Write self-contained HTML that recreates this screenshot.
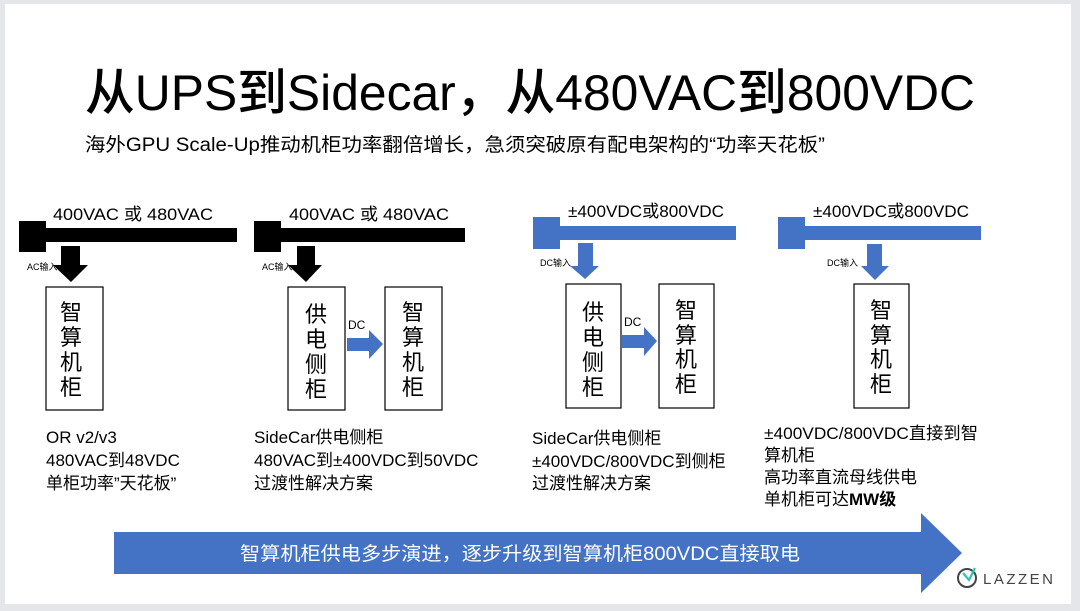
<!DOCTYPE html>
<html><head><meta charset="utf-8"><style>
html,body{margin:0;padding:0;background:#e4e6e9;}
svg{display:block;}
text{font-family:"Liberation Sans","Noto Sans CJK SC",sans-serif;}
</style></head><body>
<svg width="1080" height="611" viewBox="0 0 1080 611" xmlns="http://www.w3.org/2000/svg">
<rect x="0" y="0" width="1080" height="611" fill="#e4e6e9"/>
<rect x="5" y="4" width="1066" height="600" fill="#ffffff"/>
<text x="85" y="110" font-size="50" font-weight="500" fill="#000" textLength="890" lengthAdjust="spacingAndGlyphs">从UPS到Sidecar，从480VAC到800VDC</text>
<text x="85" y="151" font-size="19" fill="#000" textLength="740" lengthAdjust="spacingAndGlyphs">海外GPU Scale-Up推动机柜功率翻倍增长，急须突破原有配电架构的“功率天花板”</text>

<!-- Section 1 -->
<text x="53" y="220" font-size="17" fill="#000" textLength="160" lengthAdjust="spacingAndGlyphs">400VAC 或 480VAC</text>
<rect x="19" y="221" width="27" height="31" fill="#000"/>
<rect x="45" y="228" width="192" height="14" fill="#000"/>
<polygon points="61,246 80,246 80,265 88,265 71,282 53,265 61,265" fill="#000"/>
<text x="27" y="270" font-size="9" fill="#000">AC输入</text>
<rect x="46" y="287" width="57" height="123" fill="#fff" stroke="#000" stroke-width="1.2"/>
<g font-size="22" fill="#000" text-anchor="middle"><text x="71" y="320">智</text><text x="71" y="345">算</text><text x="71" y="370">机</text><text x="71" y="395">柜</text></g>
<g font-size="17" fill="#000"><text x="46" y="443">OR v2/v3</text><text x="46" y="466">480VAC到48VDC</text><text x="46" y="489">单柜功率”天花板”</text></g>

<!-- Section 2 -->
<text x="289" y="220" font-size="17" fill="#000" textLength="160" lengthAdjust="spacingAndGlyphs">400VAC 或 480VAC</text>
<rect x="254" y="221" width="27" height="31" fill="#000"/>
<rect x="280" y="228" width="185" height="14" fill="#000"/>
<polygon points="297,246 315,246 315,265 322,265 306,282 288,265 297,265" fill="#000"/>
<text x="262" y="270" font-size="9" fill="#000">AC输入</text>
<rect x="288" y="287" width="57" height="123" fill="#fff" stroke="#000" stroke-width="1.2"/>
<g font-size="22" fill="#000" text-anchor="middle"><text x="316" y="322">供</text><text x="316" y="347">电</text><text x="316" y="372">侧</text><text x="316" y="397">柜</text></g>
<text x="348" y="329" font-size="12" fill="#000">DC</text>
<polygon points="347,338 369,338 369,330 383,344 369,359 369,351 347,351" fill="#4472c4"/>
<rect x="385" y="287" width="57" height="123" fill="#fff" stroke="#000" stroke-width="1.2"/>
<g font-size="22" fill="#000" text-anchor="middle"><text x="413" y="320">智</text><text x="413" y="345">算</text><text x="413" y="370">机</text><text x="413" y="395">柜</text></g>
<g font-size="17" fill="#000"><text x="254" y="443">SideCar供电侧柜</text><text x="254" y="466">480VAC到±400VDC到50VDC</text><text x="254" y="489">过渡性解决方案</text></g>

<!-- Section 3 -->
<text x="568" y="217" font-size="17" fill="#000" textLength="156" lengthAdjust="spacingAndGlyphs">±400VDC或800VDC</text>
<rect x="533" y="217" width="27" height="32" fill="#4472c4"/>
<rect x="559" y="226" width="177" height="14" fill="#4472c4"/>
<polygon points="578,243 593,243 593,266 599,266 585,279 570,266 578,266" fill="#4472c4"/>
<text x="540" y="266" font-size="9" fill="#000">DC输入</text>
<rect x="566" y="284" width="55" height="124" fill="#fff" stroke="#000" stroke-width="1.2"/>
<g font-size="22" fill="#000" text-anchor="middle"><text x="593" y="320">供</text><text x="593" y="345">电</text><text x="593" y="370">侧</text><text x="593" y="395">柜</text></g>
<text x="624" y="326" font-size="12" fill="#000">DC</text>
<polygon points="622,335 644,335 644,327 657,341 644,356 644,348 622,348" fill="#4472c4"/>
<rect x="659" y="284" width="55" height="124" fill="#fff" stroke="#000" stroke-width="1.2"/>
<g font-size="22" fill="#000" text-anchor="middle"><text x="686" y="318">智</text><text x="686" y="343">算</text><text x="686" y="367">机</text><text x="686" y="392">柜</text></g>
<g font-size="17" fill="#000"><text x="532" y="444">SideCar供电侧柜</text><text x="532" y="467">±400VDC/800VDC到侧柜</text><text x="532" y="489">过渡性解决方案</text></g>

<!-- Section 4 -->
<text x="813" y="217" font-size="17" fill="#000" textLength="156" lengthAdjust="spacingAndGlyphs">±400VDC或800VDC</text>
<rect x="778" y="217" width="27" height="32" fill="#4472c4"/>
<rect x="804" y="226" width="177" height="14" fill="#4472c4"/>
<polygon points="867,244 882,244 882,266 889,266 875,280 861,266 867,266" fill="#4472c4"/>
<text x="827" y="266" font-size="9" fill="#000">DC输入</text>
<rect x="854" y="284" width="55" height="124" fill="#fff" stroke="#000" stroke-width="1.2"/>
<g font-size="22" fill="#000" text-anchor="middle"><text x="881" y="318">智</text><text x="881" y="343">算</text><text x="881" y="367">机</text><text x="881" y="392">柜</text></g>
<g font-size="17" fill="#000"><text x="764" y="439" textLength="214" lengthAdjust="spacingAndGlyphs">±400VDC/800VDC直接到智</text><text x="764" y="461">算机柜</text><text x="764" y="483">高功率直流母线供电</text><text x="764" y="505">单机柜可达<tspan font-weight="bold">MW级</tspan></text></g>

<!-- Big arrow -->
<polygon points="114,532 921,532 921,513 962,553 921,593 921,574 114,574" fill="#4472c4"/>
<text x="240" y="560" font-size="19" fill="#fff" textLength="560" lengthAdjust="spacingAndGlyphs">智算机柜供电多步演进，逐步升级到智算机柜800VDC直接取电</text>

<!-- Logo -->
<circle cx="967" cy="578" r="9" fill="none" stroke="#444" stroke-width="2"/>
<path d="M963 573 L969 580 L975 568" fill="none" stroke="#2ec4b6" stroke-width="2.2"/>
<text x="983" y="584" font-size="15" fill="#444" letter-spacing="2.5">LAZZEN</text>
</svg>
</body></html>
